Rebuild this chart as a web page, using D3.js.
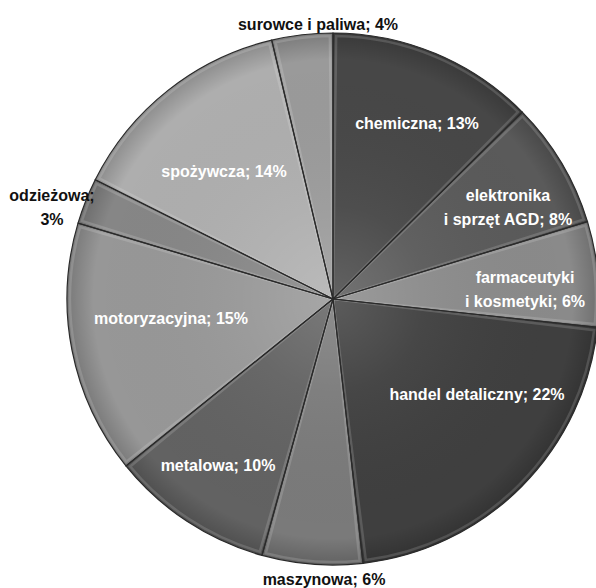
<!DOCTYPE html>
<html><head><meta charset="utf-8">
<script src="https://cdn.jsdelivr.net/npm/d3@7"></script>
<style>html,body{margin:0;padding:0;background:#fff;}</style>
</head><body>
<svg id="chart" width="596" height="588"></svg>
<script>
const categories = ["chemiczna","elektronika i sprzęt AGD","farmaceutyki i kosmetyki","handel detaliczny","maszynowa","metalowa","motoryzacyjna","odzieżowa","spożywcza","surowce i paliwa"];
const values = [12.6, 7.7, 6.4, 21.5, 6.1, 9.9, 15.4, 2.8, 13.9, 3.7];
const labels = [["chemiczna; 13%"],["elektronika","i sprzęt AGD; 8%"],["farmaceutyki","i kosmetyki; 6%"],["handel detaliczny; 22%"],["maszynowa; 6%"],["metalowa; 10%"],["motoryzacyjna; 15%"],["odzieżowa;","3%"],["spożywcza; 14%"],["surowce i paliwa; 4%"]];
const colors = ["#474747","#5a5a5a","#8a8a8a","#3f3f3f","#7a7a7a","#626262","#979797","#868686","#aeaeae","#9a9a9a"];
const outside = [false,false,false,false,true,false,false,true,false,true];

const svg = d3.select("#chart");
const cx = 333, cy = 299, R = 266;
const g = svg.append("g").attr("transform", `translate(${cx},${cy})`);

const pie = d3.pie().sort(null).value(d => d)(values);
const arc = d3.arc().innerRadius(0).outerRadius(R);

const defs = svg.append("defs");
const rg = defs.append("radialGradient").attr("id","shade").attr("gradientUnits","userSpaceOnUse")
  .attr("cx",0).attr("cy",0).attr("r",R);
rg.append("stop").attr("offset","0").attr("stop-color","#fff").attr("stop-opacity",0.15);
rg.append("stop").attr("offset","0.35").attr("stop-color","#fff").attr("stop-opacity",0.04);
rg.append("stop").attr("offset","0.9").attr("stop-color","#000").attr("stop-opacity",0.0);
rg.append("stop").attr("offset","1").attr("stop-color","#000").attr("stop-opacity",0.2);

g.selectAll("path.slice").data(pie).join("path").attr("class","slice")
  .attr("d", arc).attr("fill", (d,i) => colors[i]);
g.selectAll("path.shade").data(pie).join("path").attr("class","shade")
  .attr("d", arc).attr("fill","url(#shade)");
// bevel highlight
const arcIn = d3.arc().innerRadius(0).outerRadius(R-3);
g.selectAll("path.hl").data(pie).join("path").attr("class","hl")
  .attr("d", d => arcIn({startAngle:d.startAngle+0.012,endAngle:d.endAngle-0.012}))
  .attr("fill","none").attr("stroke","#fff").attr("stroke-opacity",0.15).attr("stroke-width",2.5);
g.selectAll("path.edge").data(pie).join("path").attr("class","edge")
  .attr("d", arc).attr("fill","none").attr("stroke","#2a2a2a").attr("stroke-width",1.2);

// label positions (pixel centers)
const labelPos = [[417,123],[508,195],[525,277],[477,394],[324,579],[218,465],[171,318],[52,195],[224,171],[318,24]];
const lineH = 24;
labels.forEach((lines,i) => {
  const t = svg.append("text")
    .attr("x", labelPos[i][0]).attr("y", labelPos[i][1])
    .attr("text-anchor","middle")
    .attr("font-family","'Liberation Sans', Arial, sans-serif")
    .attr("font-weight","bold").attr("font-size","16px")
    .attr("fill", outside[i] ? "#111" : "#fff");
  lines.forEach((ln,j) => {
    t.append("tspan").attr("x", labelPos[i][0]).attr("dy", j===0 ? "0.35em" : lineH+"px").text(ln);
  });
});
</script>
</body></html>
